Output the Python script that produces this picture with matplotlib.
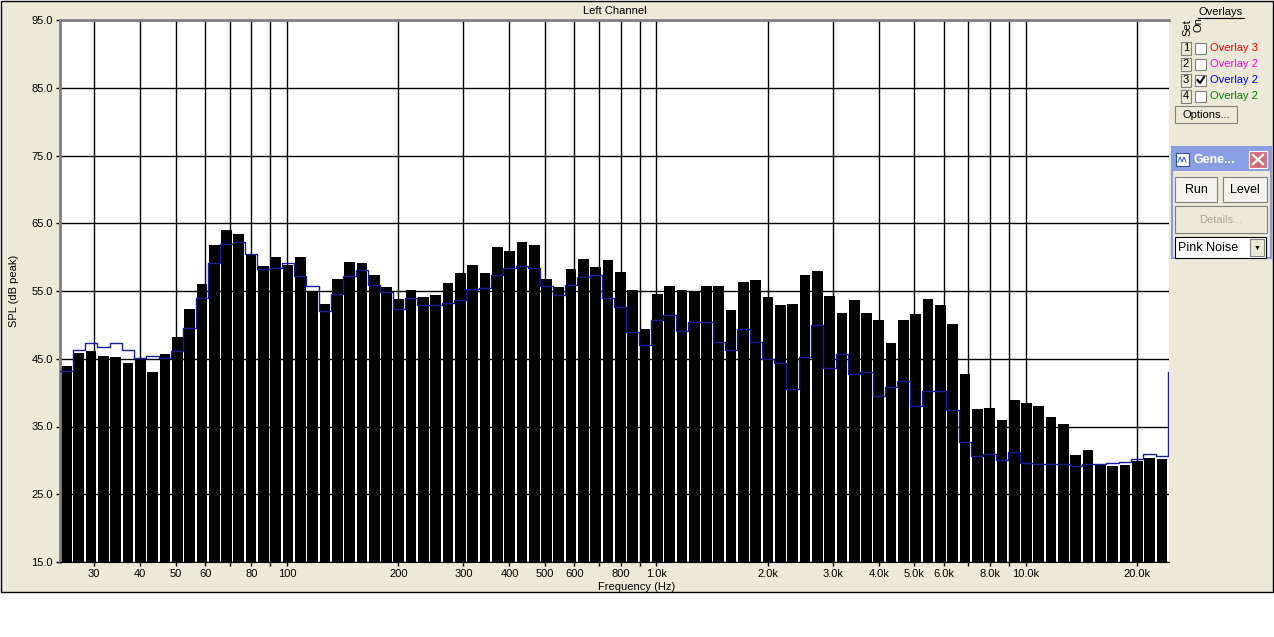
import numpy as np
import matplotlib.pyplot as plt
from matplotlib.patches import Rectangle
from matplotlib.ticker import FixedLocator, FixedFormatter, NullLocator

plt.rcParams['font.family'] = ['Liberation Sans', 'DejaVu Sans']

# analyser bands: 30 per decade starting at ~24 Hz
F_LOW = 24.3
BANDS_PER_DECADE = 30
N_BANDS = 90

# measured level per band (dB peak)
spl = [44.0, 45.9, 46.1, 45.4, 45.3, 44.4, 45.0, 43.0, 45.7, 48.2,
       52.3, 56.0, 61.8, 64.0, 63.4, 60.4, 58.7, 60.0, 58.8, 60.0,
       55.0, 53.1, 56.8, 59.3, 59.1, 57.4, 55.6, 53.8, 55.2, 54.1,
       54.4, 56.2, 57.7, 58.8, 57.6, 61.5, 60.9, 62.2, 61.8, 56.8,
       55.6, 58.3, 59.7, 58.5, 59.6, 57.8, 55.2, 49.4, 54.6, 55.7,
       55.2, 55.0, 55.7, 55.7, 52.2, 56.3, 56.6, 54.1, 52.9, 53.1,
       57.4, 58.0, 54.3, 51.8, 53.7, 51.8, 50.7, 47.3, 50.7, 51.6,
       53.8, 52.9, 50.1, 42.8, 37.6, 37.7, 36.0, 38.9, 38.5, 38.0,
       36.4, 35.4, 30.8, 31.5, 29.3, 29.2, 29.3, 29.9, 30.4, 30.2]

# overlay 3 (blue step trace)
overlay = [43.2, 46.3, 47.3, 46.8, 47.3, 46.3, 45.1, 45.4, 45.1, 46.1,
           49.6, 53.9, 59.1, 62.0, 62.3, 60.4, 58.2, 58.4, 59.1, 57.2,
           55.7, 52.1, 54.6, 57.2, 58.1, 55.9, 54.9, 52.4, 53.9, 53.0,
           52.9, 53.3, 53.6, 55.3, 55.4, 57.4, 58.4, 58.7, 58.4, 55.7,
           54.4, 55.9, 57.1, 57.4, 53.9, 52.7, 48.9, 47.0, 50.7, 51.5,
           49.1, 50.4, 50.4, 47.4, 46.3, 49.4, 47.4, 45.0, 44.3, 40.5,
           45.3, 50.0, 43.6, 45.7, 42.7, 43.0, 39.5, 40.9, 41.7, 38.0,
           40.2, 40.3, 37.4, 32.7, 30.6, 30.9, 30.0, 31.2, 29.6, 29.4,
           29.4, 29.4, 29.1, 29.4, 29.4, 29.6, 29.8, 30.2, 30.9, 30.6]
overlay_end = 43.0

grid_freqs = [30, 40, 50, 60, 70, 80, 90, 100, 200, 300, 400, 500, 600, 700,
              800, 900, 1000, 2000, 3000, 4000, 5000, 6000, 7000, 8000, 9000,
              10000, 20000]
grid_labels = ['30', '40', '50', '60', '', '80', '', '100', '200', '300', '400',
               '500', '600', '', '800', '', '1.0k', '2.0k', '3.0k', '4.0k',
               '5.0k', '6.0k', '', '8.0k', '', '10.0k', '20.0k']
y_ticks = [15, 25, 35, 45, 55, 65, 75, 85, 95]

edges = F_LOW * 10 ** (np.arange(N_BANDS + 1) / BANDS_PER_DECADE)
gap = 10 ** (0.065 / BANDS_PER_DECADE)
left = edges[:-1] * gap
right = edges[1:] / gap

W, H = 1274, 637
fig = plt.figure(figsize=(W / 100, H / 100), dpi=100)
fig.patch.set_facecolor('white')

# window background and side panel
bg = fig.add_axes([0, 0, 1, 1])
bg.set_xlim(0, W)
bg.set_ylim(H, 0)
bg.axis('off')
bg.add_patch(Rectangle((0.5, 0.5), W - 1.5, 591, fc='#ECE9D8', ec='black', lw=1))

bg.text(1221, 12, 'Overlays', ha='center', va='center', fontsize=8)
bg.plot([1198, 1244], [18, 18], color='black', lw=0.8)
bg.text(1187, 28, 'Set', rotation=90, ha='center', va='center', fontsize=8)
bg.text(1199, 25, 'On', rotation=90, ha='center', va='center', fontsize=8)
ov_names = ['Overlay 3', 'Overlay 2', 'Overlay 2', 'Overlay 2']
ov_colors = ['#FF0000', '#FF00FF', '#0000FF', '#008000']
for k, (name, col) in enumerate(zip(ov_names, ov_colors)):
    yc = 48 + 16 * k
    bg.add_patch(Rectangle((1181, yc - 6.5), 10, 13, fc='#ECE9D8', ec='#808080', lw=0.8))
    bg.text(1186, yc, str(k + 1), ha='center', va='center', fontsize=8)
    bg.add_patch(Rectangle((1195, yc - 5.5), 11, 11, fc='white', ec='#808080', lw=0.8))
    if k == 2:
        bg.plot([1197.5, 1200, 1204], [yc, yc + 3, yc - 3], color='black', lw=1.5)
    bg.text(1210, yc, name, ha='left', va='center', fontsize=8, color=col)
bg.add_patch(Rectangle((1175, 106), 62, 17, fc='#ECE9D8', ec='#808080', lw=0.8))
bg.text(1206, 115, 'Options...', ha='center', va='center', fontsize=8)

# generator tool window
bg.add_patch(Rectangle((1172, 147), 99, 111, fc='#ECE9D8', ec='#8C9CE0', lw=1.5))
bg.add_patch(Rectangle((1172, 147), 99, 24, fc='#8A9EE6', ec='none'))
bg.add_patch(Rectangle((1176, 153), 13, 13, fc='white', ec='#3050A0', lw=0.8))
bg.plot([1178, 1180, 1182, 1184, 1186], [162, 157, 162, 157, 162], color='#3050A0', lw=0.7)
bg.text(1193, 160, 'Gene...', ha='left', va='center', fontsize=9,
        color='white', fontweight='bold')
bg.add_patch(Rectangle((1249, 151), 18, 17, fc='#D0707E', ec='white', lw=0.8))
bg.plot([1253, 1263], [155, 164], color='white', lw=1.6)
bg.plot([1253, 1263], [164, 155], color='white', lw=1.6)
bg.add_patch(Rectangle((1175, 177), 42, 25, fc='#F4F3EE', ec='#7F7F7F', lw=0.8))
bg.text(1196, 190, 'Run', ha='center', va='center', fontsize=9)
bg.add_patch(Rectangle((1223, 177), 44, 25, fc='#F4F3EE', ec='#7F7F7F', lw=0.8))
bg.text(1245, 190, 'Level', ha='center', va='center', fontsize=9)
bg.add_patch(Rectangle((1175, 206), 92, 27, fc='#ECE9D8', ec='#7F7F7F', lw=0.8))
bg.text(1221, 220, 'Details...', ha='center', va='center', fontsize=8, color='#ACA899')
bg.add_patch(Rectangle((1175, 237), 91, 21, fc='white', ec='black', lw=0.8))
bg.text(1178, 248, 'Pink Noise', ha='left', va='center', fontsize=9)
bg.add_patch(Rectangle((1250, 239), 14, 17, fc='#ECE9D8', ec='#808080', lw=0.8))
bg.text(1257, 248, '\u25BC', ha='center', va='center', fontsize=5)

# main plot
ax = fig.add_axes([60 / W, 1 - 562 / H, 1109 / W, 542 / H])
ax.set_zorder(2)
ax.set_facecolor('white')
ax.set_xscale('log')
ax.set_xlim(24.25, 24450)
ax.set_ylim(15, 95)

ax.bar(left, np.array(spl) - 15, width=right - left, bottom=15, align='edge',
       color='black', edgecolor='none', zorder=2)

xs = np.repeat(edges, 2)[1:-1]
ys = np.repeat(overlay, 2)
xs = np.r_[edges[0] * 0.99, xs, edges[-1]]
ys = np.r_[overlay[0], ys, overlay_end]
ax.plot(xs, ys, color='#1C1C96', lw=1, zorder=3)

ax.xaxis.set_major_locator(FixedLocator(grid_freqs))
ax.xaxis.set_major_formatter(FixedFormatter(grid_labels))
ax.xaxis.set_minor_locator(NullLocator())
ax.set_yticks(y_ticks)
ax.set_yticklabels([f'{v:.1f}' for v in y_ticks])
ax.grid(True, color='black', lw=1)
ax.set_axisbelow(True)
ax.tick_params(direction='out', length=3, width=1, pad=2, labelsize=8)

for side in ['left', 'top']:
    ax.spines[side].set_color('#808080')
    ax.spines[side].set_linewidth(2)
ax.spines['bottom'].set_color('black')
ax.spines['right'].set_visible(False)

ax.set_title('Left Channel', fontsize=8, pad=4.5)
ax.set_xlabel('Frequency (Hz)', fontsize=8)
ax.xaxis.set_label_coords((637 - 60) / 1109, -0.036)
ax.set_ylabel('SPL (dB peak)', fontsize=8)
ax.yaxis.set_label_coords(-0.037, 0.5)

fig.savefig('out.png', dpi=100)
